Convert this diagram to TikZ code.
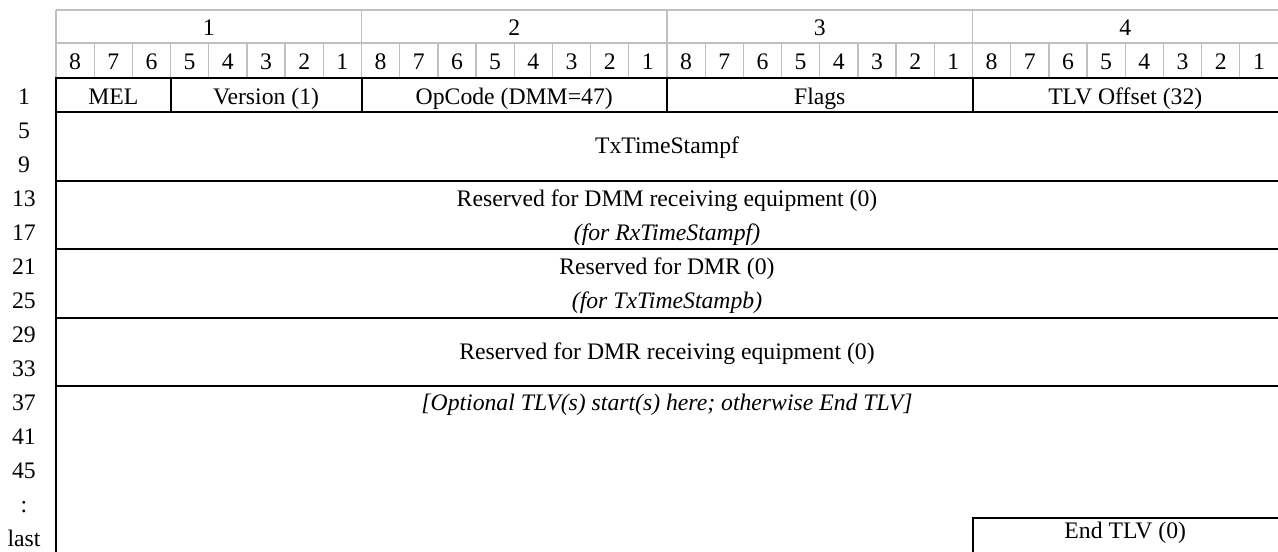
\documentclass[tikz,border=0pt]{standalone}
\usepackage{fontspec}
\setmainfont{Liberation Serif}
\usepackage{tikz}
\definecolor{hgrau}{RGB}{192,192,192}

\begin{document}
\begin{tikzpicture}[x=38.1875pt, y=-1pt]
			\tikzstyle{every node}=[font=\fontsize{23.7}{28}\selectfont, inner sep=0pt, anchor=base]
			\tikzstyle{kopf}=[draw=hgrau, line width=1.3pt]
			\tikzstyle{feld}=[draw=black, line width=2pt, line cap=rect]
			
			\useasboundingbox (-1.4664,0) rectangle (32,551);
			
			%Kopfzeilen zuerst (grau)
			\draw[kopf] (0,10) -- (32.1,10) (0,43) -- (32.1,43);
			\draw[kopf] (0,10) -- (0,78) (8,10) -- (8,78) (16,10) -- (16,78) (24,10) -- (24,78);
			\draw[kopf] (1,43) -- (1,78) (2,43) -- (2,78) (3,43) -- (3,78) (4,43) -- (4,78) (5,43) -- (5,78) (6,43) -- (6,78) (7,43) -- (7,78);
			\draw[kopf] (9,43) -- (9,78) (10,43) -- (10,78) (11,43) -- (11,78) (12,43) -- (12,78) (13,43) -- (13,78) (14,43) -- (14,78) (15,43) -- (15,78);
			\draw[kopf] (17,43) -- (17,78) (18,43) -- (18,78) (19,43) -- (19,78) (20,43) -- (20,78) (21,43) -- (21,78) (22,43) -- (22,78) (23,43) -- (23,78);
			\draw[kopf] (25,43) -- (25,78) (26,43) -- (26,78) (27,43) -- (27,78) (28,43) -- (28,78) (29,43) -- (29,78) (30,43) -- (30,78) (31,43) -- (31,78);
			
			%Oktettnummern
			\path (4,35.5) node(o1){1} (12,35.5) node(o2){2} (20,35.5) node(o3){3} (28,35.5) node(o4){4};
			%Bitnummern
			\path (0.5,69) node(b18){8} (1.5,69) node(b17){7} (2.5,69) node(b16){6} (3.5,69) node(b15){5} (4.5,69) node(b14){4} (5.5,69) node(b13){3} (6.5,69) node(b12){2} (7.5,69) node(b11){1};
			\path (8.5,69) node(b28){8} (9.5,69) node(b27){7} (10.5,69) node(b26){6} (11.5,69) node(b25){5} (12.5,69) node(b24){4} (13.5,69) node(b23){3} (14.5,69) node(b22){2} (15.5,69) node(b21){1};
			\path (16.5,69) node(b38){8} (17.5,69) node(b37){7} (18.5,69) node(b36){6} (19.5,69) node(b35){5} (20.5,69) node(b34){4} (21.5,69) node(b33){3} (22.5,69) node(b32){2} (23.5,69) node(b31){1};
			\path (24.5,69) node(b48){8} (25.5,69) node(b47){7} (26.5,69) node(b46){6} (27.5,69) node(b45){5} (28.5,69) node(b44){4} (29.5,69) node(b43){3} (30.5,69) node(b42){2} (31.5,69) node(b41){1};
			
			%Feldgrenzen (schwarz)
			\draw[feld] (0,78) -- (32.1,78) (0,112) -- (32.1,112) (0,181) -- (32.1,181) (0,249) -- (32.1,249) (0,318) -- (32.1,318) (0,386) -- (32.1,386);
			\draw[feld] (0,78) -- (0,560);
			\draw[feld] (3,78) -- (3,112) (8,78) -- (8,112) (16,78) -- (16,112) (24,78) -- (24,112);
			\draw[feld] (24,560) -- (24,518) -- (32.1,518); %End TLV
			
			%Zeilennummern links
			\path (-0.838,104) node(z1){1} (-0.838,138) node(z5){5} (-0.838,172) node(z9){9} (-0.838,206) node(z13){13} (-0.838,240) node(z17){17} (-0.838,274) node(z21){21} (-0.838,308) node(z25){25};
			\path (-0.838,342) node(z29){29} (-0.838,376) node(z33){33} (-0.838,410) node(z37){37} (-0.838,444) node(z41){41} (-0.838,478) node(z45){45} (-0.838,512) node(zp){:} (-0.838,546) node(zl){last};
			
			%Feldinhalte
			\path (1.5,104) node(mel){MEL} (5.5,104) node(ver){Version (1)} (12,104) node(opc){OpCode (DMM=47)} (20,104) node(flg){Flags} (28,104) node(tlvo){TLV Offset (32)};
			\path (16,153.5) node(txf){TxTimeStampf};
			\path (16,206) node(rdmm){Reserved for DMM receiving equipment (0)} (16,240) node(rxf){\itshape (for RxTimeStampf)};
			\path (16,274) node(rdmr){Reserved for DMR (0)} (16,308) node(txb){\itshape (for TxTimeStampb)};
			\path (16,359) node(rdmre){Reserved for DMR receiving equipment (0)};
			\path (16,410) node(opt){\itshape [Optional TLV(s) start(s) here; otherwise End TLV]};
			\path (28,538) node(endtlv){End TLV (0)};
\end{tikzpicture}
\end{document}
